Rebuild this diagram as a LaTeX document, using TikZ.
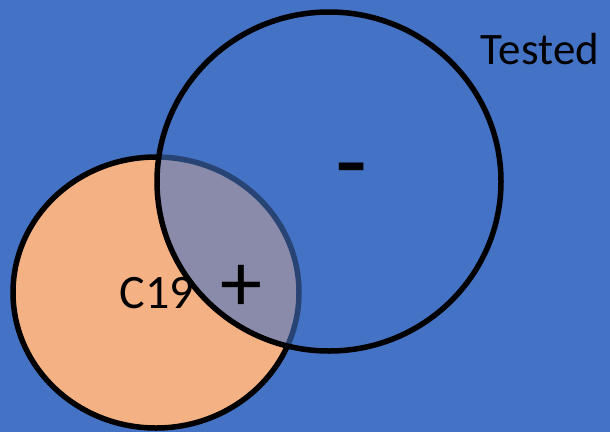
\documentclass[tikz,border=0pt]{standalone}
\usepackage{fontspec}
\setmainfont{Carlito}
\usepackage{tikz}
\definecolor{bgblue}{RGB}{68,114,196}
\definecolor{peach}{RGB}{244,177,131}
\tikzset{
  setline/.style={line width=5.5pt,draw=black},
  lbl/.style={inner sep=0pt,anchor=base},
  sign/.style={inner sep=0pt}
}
\begin{document}
\begin{tikzpicture}[x=1pt,y=-1pt]
  \fill[bgblue] (0,0) rectangle (610,432);
  \useasboundingbox (0,0) rectangle (610,432);
  \draw[setline,fill=peach] (156,292.5) ellipse [x radius=143,y radius=135.5];
  \draw[setline,fill=bgblue,fill opacity=0.6] (329,181.5) ellipse [x radius=172,y radius=169.5];
  \node[lbl,font=\fontsize{45}{50}\selectfont] (tested) at (540,64) {Tested};
  \node[lbl,font=\fontsize{48}{52}\selectfont] (c19) at (157,308) {C19};
  \node[sign,font=\fontsize{84}{90}\selectfont] (plus) at (241,288.5) {+};
  \node[sign,font=\fontsize{105}{110}\selectfont] (minus) at (352,180) {-};
\end{tikzpicture}
\end{document}
